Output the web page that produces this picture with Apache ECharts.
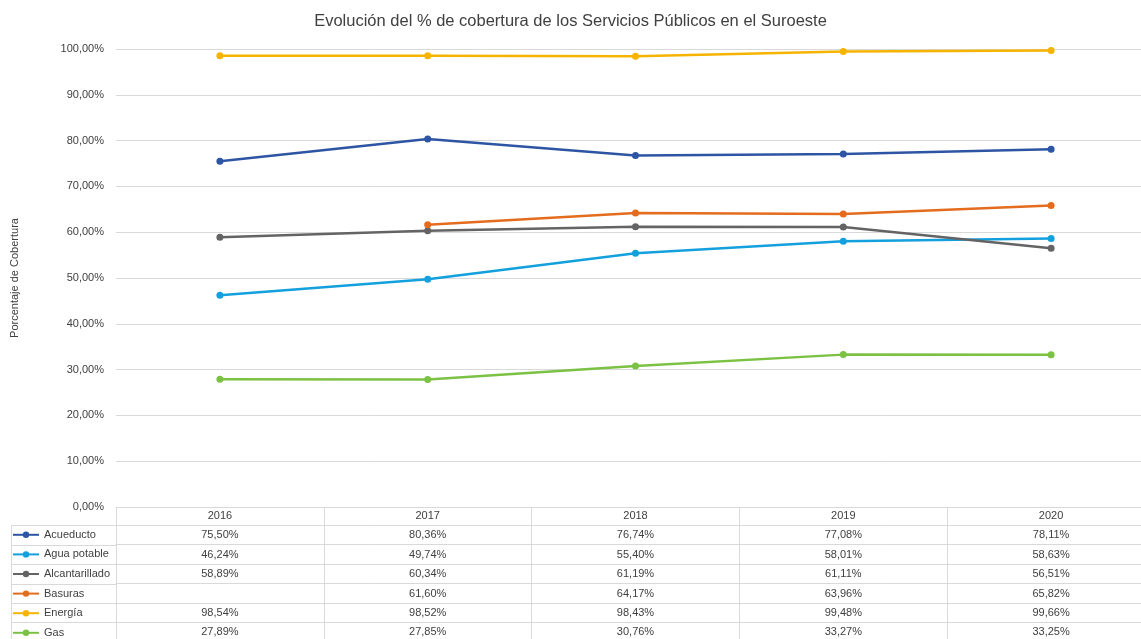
<!DOCTYPE html>
<html>
<head>
<meta charset="utf-8">
<script src="https://cdn.jsdelivr.net/npm/echarts@6/dist/echarts.min.js"></script>
<style>
  html, body { margin: 0; padding: 0; background: #fff; }
  #main { width: 1141px; height: 639px; }
</style>
</head>
<body>
<div id="main"></div>
<script>
// datos
const years = ['2016', '2017', '2018', '2019', '2020'];
const names = ['Acueducto', 'Agua potable', 'Alcantarillado', 'Basuras', 'Energía', 'Gas'];
const acueducto = [75.50, 80.36, 76.74, 77.08, 78.11];
const aguaPotable = [46.24, 49.74, 55.40, 58.01, 58.63];
const alcantarillado = [58.89, 60.34, 61.19, 61.11, 56.51];
const basuras = [null, 61.60, 64.17, 63.96, 65.82];
const energia = [98.54, 98.52, 98.43, 99.48, 99.66];
const gas = [27.89, 27.85, 30.76, 33.27, 33.25];
const colors = ['#2E55A3', '#14A0DC', '#646464', '#E36C1E', '#F5B400', '#7BC143'];

const rows = [acueducto, aguaPotable, alcantarillado, basuras, energia, gas];
const fmt = v => (v == null ? '' : v.toFixed(2).replace('.', ',') + '%');

const textColor = '#404040';
const lineColor = '#d9d9d9';
const headerH = 18.3;
const rowH = 19.4;
const gridLeft = 116, gridTop = 49, gridH = 458, gridW = 1039;
const tableTop = gridTop + gridH;

const myChart = echarts.init(document.getElementById('main'));

// eje principal (encabezado con los años)
const xAxes = [{
    type: 'category',
    data: years,
    position: 'bottom',
    boundaryGap: true,
    axisLine: { onZero: false, lineStyle: { color: lineColor } },
    axisTick: { show: true, length: headerH, lineStyle: { color: lineColor } },
    axisLabel: { interval: 0, color: textColor, fontSize: 11, margin: 9, verticalAlign: 'middle' }
}];

// una fila de la tabla por serie
rows.forEach((vals, k) => {
    xAxes.push({
        type: 'category',
        data: years,
        position: 'bottom',
        offset: headerH + rowH * k,
        boundaryGap: true,
        axisLine: { onZero: false, lineStyle: { color: lineColor } },
        axisTick: { show: true, length: rowH, lineStyle: { color: lineColor } },
        axisLabel: {
            interval: 0, color: textColor, fontSize: 11, margin: 10, verticalAlign: 'middle',
            formatter: (value, idx) => fmt(vals[idx])
        }
    });
});

// bordes de la columna de la leyenda
const graphics = [];
for (let k = 0; k <= rows.length; k++) {
    const y = Math.round(tableTop + headerH + rowH * k) + 0.5;
    graphics.push({ type: 'line', shape: { x1: 11, y1: y, x2: gridLeft, y2: y }, style: { stroke: lineColor, lineWidth: 1 } });
}
graphics.push({ type: 'line', shape: { x1: 11.5, y1: tableTop + headerH, x2: 11.5, y2: 645 }, style: { stroke: lineColor, lineWidth: 1 } });

const option = {
    backgroundColor: '#fff',
    textStyle: { fontFamily: 'Liberation Sans, Arial, sans-serif' },
    title: {
        text: 'Evolución del % de cobertura de los Servicios Públicos en el Suroeste',
        left: 'center',
        top: 8,
        textStyle: { color: textColor, fontSize: 16.5, fontWeight: 'normal' }
    },
    color: colors,
    legend: {
        orient: 'vertical',
        left: 7,
        top: tableTop + headerH - 1,
        height: 160,
        itemWidth: 26,
        itemHeight: 8,
        itemGap: 8.6,
        textStyle: { color: textColor, fontSize: 11 },
        data: names
    },
    grid: { left: gridLeft, top: gridTop, width: gridW, height: gridH, outerBoundsMode: 'none' },
    xAxis: xAxes,
    yAxis: {
        type: 'value',
        min: 0,
        max: 100,
        interval: 10,
        name: 'Porcentaje de Cobertura',
        nameLocation: 'middle',
        nameGap: 96,
        nameTextStyle: { color: textColor, fontSize: 11 },
        axisLine: { show: false },
        axisTick: { show: false },
        axisLabel: { color: textColor, fontSize: 11, margin: 12, formatter: v => fmt(v) },
        splitLine: { lineStyle: { color: lineColor } }
    },
    graphic: graphics,
    series: rows.map((vals, k) => ({
        name: names[k],
        type: 'line',
        xAxisIndex: 0,
        data: vals,
        symbol: 'circle',
        symbolSize: 7,
        lineStyle: { width: 2.5 },
        itemStyle: { color: colors[k] }
    }))
};

myChart.setOption(option);
</script>
</body>
</html>
